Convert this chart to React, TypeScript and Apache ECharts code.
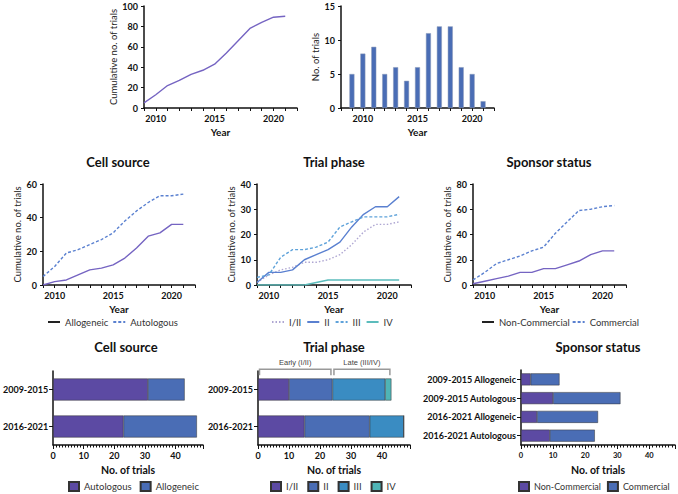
import React, { useEffect, useRef } from "react";
import * as echarts from "echarts";

const YEARS = [2009, 2010, 2011, 2012, 2013, 2014, 2015, 2016, 2017, 2018, 2019, 2020, 2021];
const TOTAL_CUM = [5, 13, 22, 27, 33, 37, 43, 54, 66, 78, 84, 89, 90];
const PER_YEAR = [5, 8, 9, 5, 6, 4, 6, 11, 12, 12, 6, 5, 1];
const CS_ALLO = [0, 2, 3, 6, 9, 10, 12, 16, 22, 29, 31, 36, 36];
const CS_AUTO = [5, 11, 19, 21, 24, 27, 31, 38, 44, 49, 53, 53, 54];
const TP_12 = [1, 4, 6, 7, 9, 9, 10, 12, 16, 21, 24, 24, 25];
const TP_2 = [1, 5, 5, 6, 10, 12, 14, 17, 23, 28, 31, 31, 35];
const TP_3 = [3, 4, 11, 14, 14, 15, 17, 23, 25, 27, 27, 27, 28];
const TP_4 = [0, 0, 0, 0, 0, 1, 2, 2, 2, 2, 2, 2, 2];
const SP_NC = [1, 3, 5, 7, 10, 10, 13, 13, 16, 19, 24, 27, 27];
const SP_C = [4, 10, 17, 20, 23, 27, 30, 41, 50, 59, 60, 62, 63];

const PERIODS = ["2009-2015", "2016-2021"];
const CSB_AUTO = [31, 23];
const CSB_ALLO = [12, 24];
const TPB_12 = [10, 15];
const TPB_2 = [14, 21];
const TPB_3 = [17, 11];
const TPB_4 = [2, 0];
const SP_ROWS = ["2009-2015 Allogeneic", "2009-2015 Autologous", "2016-2021 Allogeneic", "2016-2021 Autologous"];
const SPB_NC = [3, 10, 5, 9];
const SPB_C = [9, 21, 19, 14];
const PHASE_GROUPS = [[0, 24], [24, 43]];
const PHASE_GROUP_LABELS = ["Early (I/II)", "Late (III/IV)"];

const LABELS: Record<string, string> = {
  cs_allo: "Allogeneic", cs_auto: "Autologous",
  tp_12: "I/II", tp_2: "II", tp_3: "III", tp_4: "IV",
  sp_nc: "Non-Commercial", sp_c: "Commercial",
  csb_auto: "Autologous", csb_allo: "Allogeneic",
  tpb_12: "I/II", tpb_2: "II", tpb_3: "III", tpb_4: "IV",
  spb_nc: "Non-Commercial", spb_c: "Commercial",
};

const PURPLE = "#5c4aa3";
const BLUE = "#4a6db5";
const STEEL = "#3a8cc2";
const TEAL = "#4fb4b6";
const LINE_PURPLE = "#7564c2";
const LINE_BLUE = "#5a80d0";
const AX = "#111";

const pairs = (ys: number[]) => YEARS.map((y, i) => [y, ys[i]]);

function yearAxis(gridIndex: number, min: number) {
  return {
    type: "value", gridIndex, min, max: 2022, interval: 1,
    axisLine: { show: true, lineStyle: { color: AX, width: 1.5 } },
    axisTick: { show: true, length: 3, lineStyle: { color: AX, width: 1 } },
    axisLabel: {
      formatter: (v: number) => (v % 5 === 0 ? String(v) : ""),
      fontSize: 9, fontWeight: "bold", color: AX, margin: 6,
    },
    splitLine: { show: false },
    name: "Year", nameLocation: "middle", nameGap: 19,
    nameTextStyle: { fontSize: 10, fontWeight: "bold", color: AX },
  };
}

function countAxis(gridIndex: number, max: number, interval: number, name: string, nameGap: number) {
  return {
    type: "value", gridIndex, min: 0, max, interval,
    axisLine: { show: true, lineStyle: { color: AX, width: 1.5 } },
    axisTick: { show: true, length: 3, lineStyle: { color: AX } },
    axisLabel: { fontSize: 9, fontWeight: "bold", color: AX, margin: 6 },
    splitLine: { show: false },
    name, nameLocation: "middle", nameGap,
    nameTextStyle: { fontSize: 9.5, color: "#222" },
  };
}

function trialsAxis(gridIndex: number, max: number, fontSize: number) {
  return {
    type: "value", gridIndex, min: 0, max, interval: 10,
    axisLine: { show: true, lineStyle: { color: AX, width: 1.5 } },
    axisTick: { show: true, length: 4, lineStyle: { color: AX } },
    minorTick: { show: true, splitNumber: 10, length: 2.5, lineStyle: { color: AX } },
    axisLabel: {
      formatter: (v: number) => (v % 10 === 0 ? String(v) : ""),
      fontSize, fontWeight: "bold", color: AX, margin: 6,
    },
    splitLine: { show: false },
    name: "No. of trials", nameLocation: "middle", nameGap: 19,
    nameTextStyle: { fontSize: 10.5, fontWeight: "bold", color: AX },
  };
}

function catAxis(gridIndex: number, data: string[]) {
  return {
    type: "category", gridIndex, data, inverse: true,
    axisLine: { show: true, lineStyle: { color: AX, width: 1.5 } },
    axisTick: { show: true, alignWithLabel: true, length: 4, lineStyle: { color: AX } },
    axisLabel: { fontSize: 9, fontWeight: "bold", color: AX, margin: 5 },
  };
}

function line(name: string, idx: number, ys: number[], color: string, type: any) {
  return {
    type: "line", name, xAxisIndex: idx, yAxisIndex: idx, data: pairs(ys),
    symbol: "none", lineStyle: { color, width: 1.4, type }, itemStyle: { color },
  };
}

function bar(name: string, idx: number, vals: number[], color: string, stack: string, width: number) {
  return {
    type: "bar", name, xAxisIndex: idx, yAxisIndex: idx, data: vals, stack,
    barWidth: width, itemStyle: { color, borderColor: "#333", borderWidth: 0.5 },
  };
}

const fmt = (n: string) => LABELS[n] || n;

export default function App() {
  const ref = useRef<HTMLDivElement>(null);
  useEffect(() => {
    if (!ref.current) return;
    const chart = echarts.init(ref.current, null, { renderer: "svg" });
    const titleStyle = { fontSize: 13, fontWeight: "bold", color: "#111", fontFamily: "Lato" };
    const legendText = { fontSize: 9.5, color: "#333", fontFamily: "Lato" };
    const hiddenSymbol = { opacity: 0, borderWidth: 0 };
    const option: any = {
      animation: false,
      backgroundColor: "#fff",
      textStyle: { fontFamily: "Lato" },
      title: [
        { text: "Cell source", left: 118, top: 155, textAlign: "center", padding: 0, textStyle: titleStyle },
        { text: "Trial phase", left: 334, top: 155, textAlign: "center", padding: 0, textStyle: titleStyle },
        { text: "Sponsor status", left: 549, top: 155, textAlign: "center", padding: 0, textStyle: titleStyle },
        { text: "Cell source", left: 126, top: 340, textAlign: "center", padding: 0, textStyle: titleStyle },
        { text: "Trial phase", left: 334, top: 340, textAlign: "center", padding: 0, textStyle: titleStyle },
        { text: "Sponsor status", left: 598, top: 340, textAlign: "center", padding: 0, textStyle: titleStyle },
      ],
      grid: [
        { left: 144, top: 6, width: 153, height: 102 },
        { left: 341, top: 6, width: 153, height: 102 },
        { left: 43, top: 184, width: 152, height: 101 },
        { left: 257, top: 184, width: 154, height: 101 },
        { left: 473, top: 184, width: 153, height: 101 },
        { left: 50, top: 371, width: 153, height: 74 },
        { left: 258, top: 371, width: 152, height: 74 },
        { left: 521, top: 370, width: 154, height: 75 },
      ],
      xAxis: [
        yearAxis(0, 2009),
        yearAxis(1, 2008),
        yearAxis(2, 2009),
        yearAxis(3, 2009),
        yearAxis(4, 2009),
        trialsAxis(5, 49, 9),
        trialsAxis(6, 49, 9),
        trialsAxis(7, 48, 7.5),
      ],
      yAxis: [
        countAxis(0, 100, 20, "Cumulative no. of trials", 24),
        countAxis(1, 15, 5, "No. of trials", 18),
        countAxis(2, 60, 20, "Cumulative no. of trials", 19),
        countAxis(3, 40, 10, "Cumulative no. of trials", 17),
        countAxis(4, 80, 20, "Cumulative no. of trials", 16),
        catAxis(5, PERIODS),
        catAxis(6, PERIODS),
        catAxis(7, SP_ROWS),
      ],
      legend: [
        {
          left: 47, top: 317, padding: 0, itemGap: 4, itemWidth: 12, itemHeight: 10,
          formatter: fmt, textStyle: legendText, itemStyle: hiddenSymbol,
          data: [{ name: "cs_allo", lineStyle: { color: "#222" } }, { name: "cs_auto" }],
        },
        {
          left: 271, top: 317, padding: 0, itemGap: 5, itemWidth: 12, itemHeight: 10,
          formatter: fmt, textStyle: legendText, itemStyle: hiddenSymbol,
          data: ["tp_12", "tp_2", "tp_3", "tp_4"],
        },
        {
          left: 481, top: 317, padding: 0, itemGap: 2, itemWidth: 12, itemHeight: 10,
          formatter: fmt, textStyle: legendText, itemStyle: hiddenSymbol,
          data: [{ name: "sp_nc", lineStyle: { color: "#222" } }, { name: "sp_c" }],
        },
        {
          left: 68, top: 481, padding: 0, itemGap: 8, itemWidth: 10, itemHeight: 9, icon: "rect",
          formatter: fmt, textStyle: legendText,
          data: ["csb_auto", "csb_allo"],
        },
        {
          left: 270, top: 481, padding: 0, itemGap: 9, itemWidth: 10, itemHeight: 9, icon: "rect",
          formatter: fmt, textStyle: legendText,
          data: ["tpb_12", "tpb_2", "tpb_3", "tpb_4"],
        },
        {
          left: 518, top: 481, padding: 0, itemGap: 6, itemWidth: 10, itemHeight: 9, icon: "rect",
          formatter: fmt, textStyle: { ...legendText, fontSize: 9 },
          data: ["spb_nc", "spb_c"],
        },
      ],
      series: [
        line("total", 0, TOTAL_CUM, LINE_PURPLE, "solid"),
        {
          type: "bar", name: "perYear", xAxisIndex: 1, yAxisIndex: 1, data: pairs(PER_YEAR),
          barWidth: 5, itemStyle: { color: BLUE, borderColor: "#8c9ab8", borderWidth: 0.5 },
        },
        line("cs_allo", 2, CS_ALLO, LINE_PURPLE, "solid"),
        line("cs_auto", 2, CS_AUTO, LINE_BLUE, [3, 2]),
        line("tp_12", 3, TP_12, "#aea6d2", [1.5, 2]),
        line("tp_2", 3, TP_2, LINE_BLUE, "solid"),
        line("tp_3", 3, TP_3, "#5ea2da", [3, 2]),
        line("tp_4", 3, TP_4, "#5bbcbc", "solid"),
        line("sp_nc", 4, SP_NC, LINE_PURPLE, "solid"),
        line("sp_c", 4, SP_C, LINE_BLUE, [3, 2]),
        bar("csb_auto", 5, CSB_AUTO, PURPLE, "cs", 22),
        bar("csb_allo", 5, CSB_ALLO, BLUE, "cs", 22),
        bar("tpb_12", 6, TPB_12, PURPLE, "tp", 22),
        bar("tpb_2", 6, TPB_2, BLUE, "tp", 22),
        bar("tpb_3", 6, TPB_3, STEEL, "tp", 22),
        bar("tpb_4", 6, TPB_4, TEAL, "tp", 22),
        bar("spb_nc", 7, SPB_NC, PURPLE, "sp", 12),
        bar("spb_c", 7, SPB_C, BLUE, "sp", 12),
        {
          type: "custom", name: "brackets", xAxisIndex: 6, yAxisIndex: 6, silent: true,
          data: PHASE_GROUPS.map((g) => [g[0], g[1], 0]),
          encode: { x: [0, 1], y: 2 },
          renderItem: (params: any, api: any) => {
            const s = api.value(0);
            const e = api.value(1);
            const p0 = api.coord([s, 0]);
            const p1 = api.coord([e, 0]);
            const band = api.size([0, 1])[1];
            const yTop = p0[1] - band * 0.55;
            const x0 = p0[0] + 1.5;
            const x1 = p1[0] - 1.5;
            return {
              type: "group",
              children: [
                {
                  type: "polyline",
                  shape: { points: [[x0, yTop + 6], [x0, yTop], [x1, yTop], [x1, yTop + 6]] },
                  style: { stroke: "#999", lineWidth: 1.5, fill: null },
                },
                {
                  type: "text",
                  style: {
                    text: PHASE_GROUP_LABELS[params.dataIndex], x: (x0 + x1) / 2, y: yTop - 7,
                    align: "center", verticalAlign: "middle",
                    fontSize: 7.5, fontFamily: "Liberation Sans", fill: "#444",
                  },
                },
              ],
            };
          },
        },
      ],
    };
    chart.setOption(option);
    return () => chart.dispose();
  }, []);
  return (
    <div
      ref={ref}
      style={{ position: "fixed", left: 0, top: 0, width: 678, height: 494, background: "#fff" }}
    />
  );
}
